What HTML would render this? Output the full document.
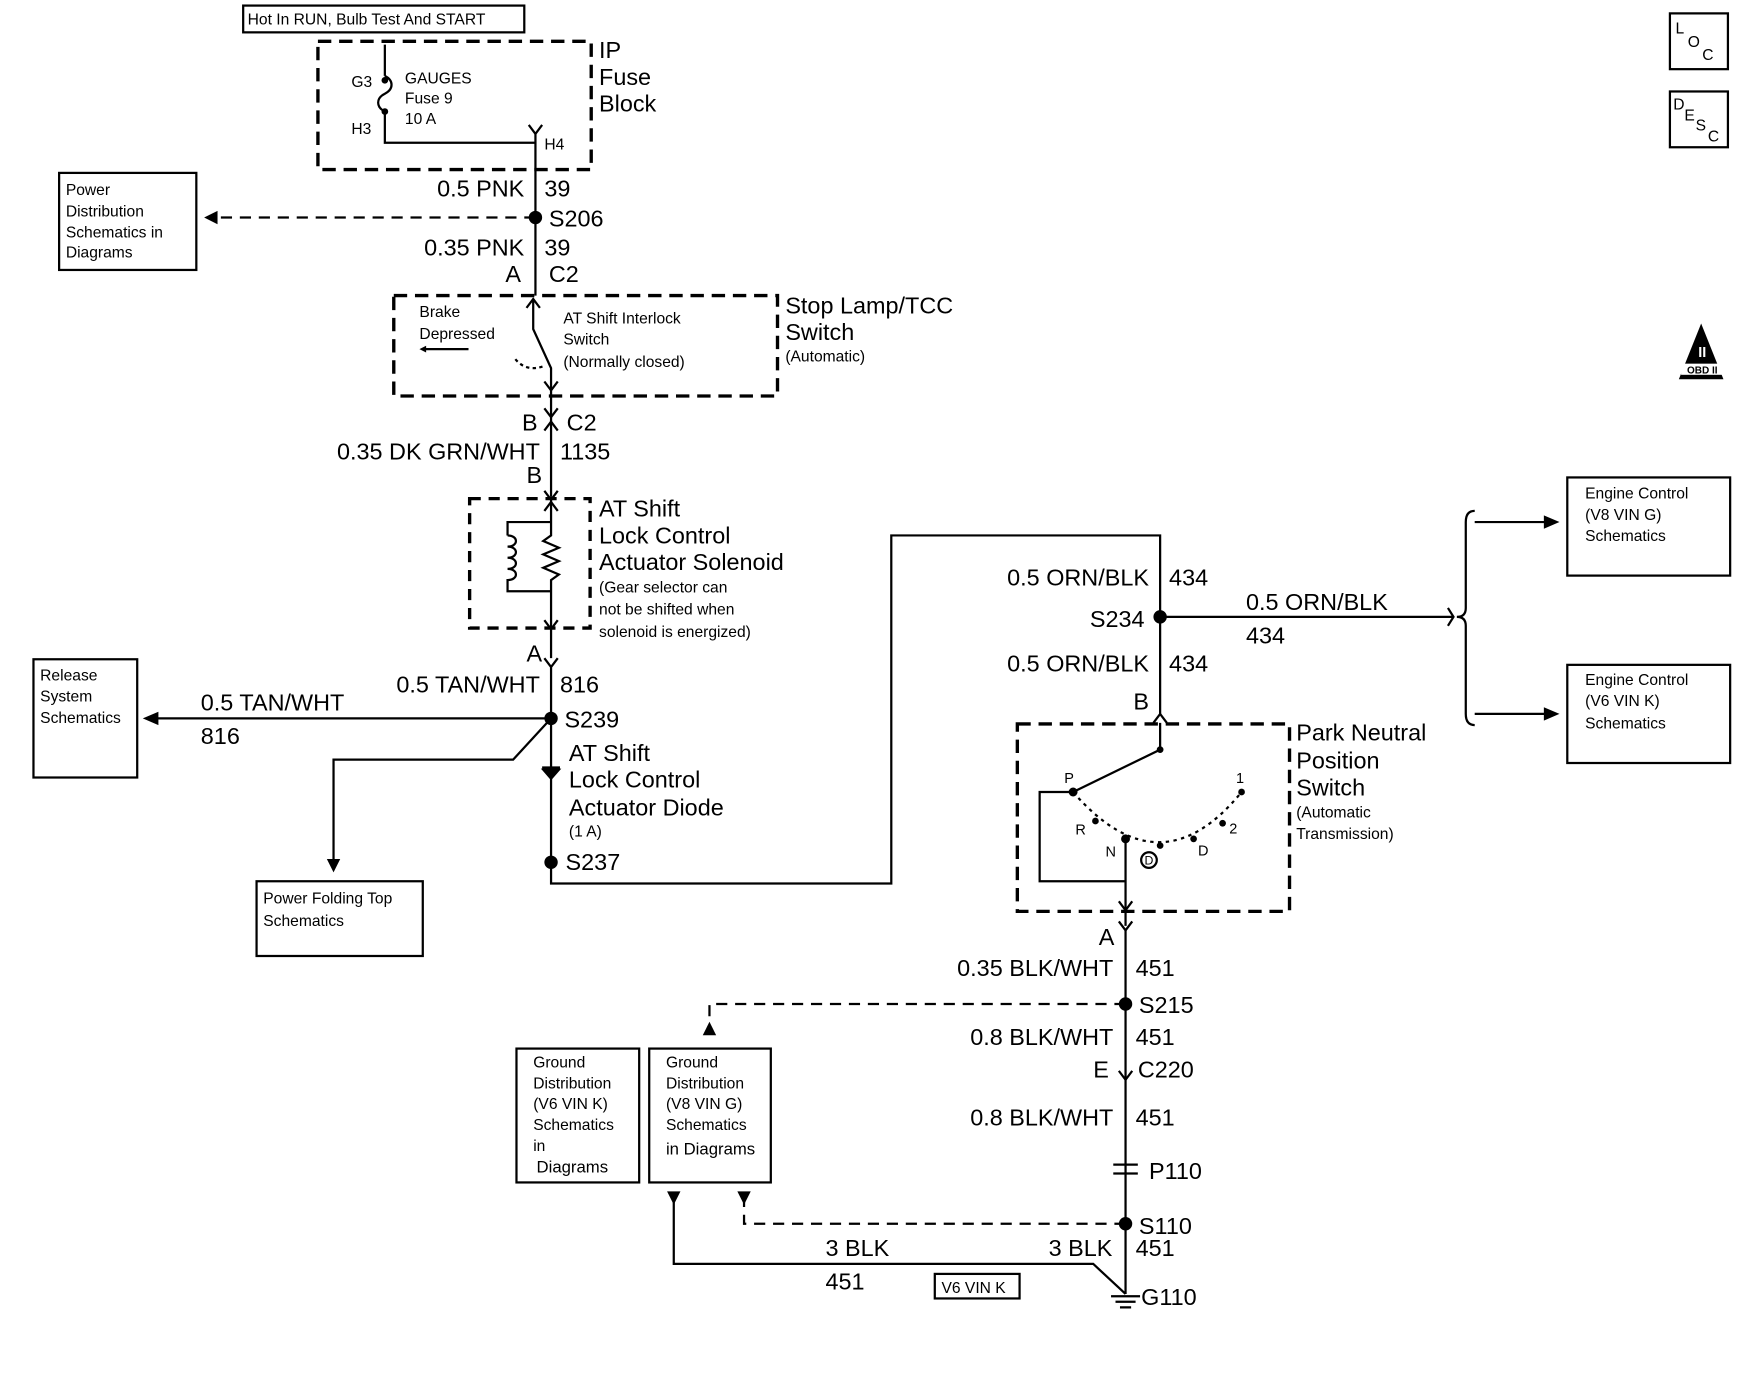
<!DOCTYPE html>
<html><head><meta charset="utf-8"><style>
html,body{margin:0;padding:0;background:#fff}
svg{display:block}
text{font-family:"Liberation Sans",Arial,sans-serif;fill:#000}
.b{font-size:21px}.m{font-size:15px}.s{font-size:14px}
.r{text-anchor:end}
</style></head><body>
<svg width="1748" height="1376" viewBox="0 0 1567 1233" preserveAspectRatio="xMinYMin meet" xmlns="http://www.w3.org/2000/svg">
<g fill="none" stroke="#000" stroke-width="2">
<rect x="218" y="5" width="252" height="24"/>
<rect x="285" y="37" width="245" height="115" stroke-dasharray="12,7" stroke-width="3"/>
<path d="M345 40V68 M345 100V128H480"/>
<path d="M345 68c8 4 8 12 0 16c-8 4-8 12 0 16"/>
<path d="M474 112l6 8l6-8"/>
<path d="M480 120V265"/>
<path d="M480 195H195" stroke-dasharray="10,7"/>
<rect x="53" y="155" width="123" height="87"/>
<rect x="353" y="265" width="344" height="90" stroke-dasharray="12,7" stroke-width="3"/>
<path d="M472 276l6-8l6 8 M478 268V295 L494 330 V378"/>
<path d="M462 322q10 12 26 6" stroke-dasharray="3,3"/>
<path d="M380 313H420"/>
<path d="M488 342l6 8l6-8 M488 366l6 8l6-8"/>
<path d="M494 378V445"/>
<path d="M488 386l6-8l6 8 M488 440l6 8l6-8"/>
<rect x="421" y="447" width="108" height="116" stroke-dasharray="10,7" stroke-width="3"/>
<path d="M494 445V480l-7 5l14 6l-14 6l14 6l-14 6l14 6l-7 5V590"/>
<path d="M494 468H455V480 M455 480c10 0 10 10 0 10c10 0 10 10 0 10c10 0 10 10 0 10c10 0 10 10 0 10V530H494"/>
<path d="M488 458l6-8l6 8 M488 556l6 8l6-8"/>
<path d="M488 590l6 8l6-8 M494 598V792H799V480H1040V640"/>
<path d="M494 644H140"/>
<rect x="30" y="591" width="93" height="106"/>
<path d="M494 644L460 681H299V770"/>
<rect x="230" y="790" width="149" height="67"/>
<path d="M486 688h16 M487 690l7 8l7-8z" fill="#000"/>
<path d="M1040 553H1303 M1298 545l5 8l-5 8"/>
<path d="M1322 458q-8 0-8 10V545q0 8-8 8q8 0 8 8V640q0 10 8 10"/>
<path d="M1322 468H1390 M1322 640H1390"/>
<rect x="1405" y="428" width="146" height="88"/>
<rect x="1405" y="596" width="146" height="88"/>
<path d="M1034 648l6-8l6 8"/>
<rect x="912" y="649" width="244" height="168" stroke-dasharray="12,7" stroke-width="3"/>
<path d="M1040 648V672L962 710H932V790H1009 M1009 752V830"/>
<path d="M962 710Q1040 800 1113 710" stroke-dasharray="3,4"/>
<circle cx="1030" cy="771" r="7"/>
<path d="M1003 808l6 8l6-8 M1003 826l6 8l6-8"/>
<path d="M1009 834V1160"/>
<path d="M1009 900H636V912" stroke-dasharray="10,7"/>
<rect x="463" y="940" width="110" height="120"/>
<rect x="582" y="940" width="109" height="120"/>
<path d="M1003 960l6 8l6-8"/>
<path d="M998 1044h22 M998 1052h22"/>
<path d="M1009 1097H667V1075" stroke-dasharray="10,7"/>
<path d="M604 1078V1133H980L1009 1160"/>
<rect x="838" y="1142" width="76" height="22"/>
<path d="M996 1162h26 M1000 1167h18 M1004 1172h10"/>
<rect x="1497" y="12" width="52" height="50"/>
<rect x="1497" y="82" width="52" height="50"/>
</g>
<g fill="#000">
<path d="M195 189L183 195L195 201z"/>
<path d="M142 638L128 644L142 650z"/>
<path d="M293 770L299 782L305 770z"/>
<path d="M1384 462L1398 468L1384 474z M1384 634L1398 640L1384 646z"/>
<path d="M630 928L636 916L642 928z"/>
<path d="M598 1068L604 1080L610 1068z M661 1068L667 1080L673 1068z"/>
<path d="M382 310L376 313L382 316z"/>
<circle cx="480" cy="195" r="6"/><circle cx="494" cy="644" r="6"/><circle cx="494" cy="773" r="6"/>
<circle cx="1040" cy="553" r="6"/><circle cx="1009" cy="900" r="6"/><circle cx="1009" cy="1097" r="6"/>
<circle cx="345" cy="72" r="3"/><circle cx="345" cy="100" r="3"/>
<circle cx="962" cy="710" r="4"/><circle cx="982" cy="736" r="3"/><circle cx="1009" cy="752" r="4"/><circle cx="1040" cy="758" r="3"/><circle cx="1070" cy="752" r="3"/><circle cx="1096" cy="738" r="3"/><circle cx="1113" cy="710" r="3"/><circle cx="1040" cy="672" r="3"/>
<path d="M1505 340L1525 290L1545 340z"/>
</g>
<rect x="1507" y="326" width="38" height="10" fill="#fff"/>
<text x="1526" y="335" font-size="9" text-anchor="middle" font-weight="bold">OBD II</text>
<text x="1526" y="320" font-size="13" text-anchor="middle" style="fill:#fff" font-weight="bold">II</text>
<text class="s" x="222" y="22">Hot In RUN, Bulb Test And START</text>
<text class="b" x="537" y="52">IP</text><text class="b" x="537" y="76">Fuse</text><text class="b" x="537" y="100">Block</text>
<text class="s" x="315" y="78">G3</text><text class="s" x="315" y="120">H3</text>
<text class="s" x="363" y="75">GAUGES</text><text class="s" x="363" y="93">Fuse 9</text><text class="s" x="363" y="111">10 A</text>
<text class="s" x="488" y="134">H4</text>
<text class="b r" x="470" y="176">0.5 PNK</text><text class="b" x="488" y="176">39</text>
<text class="b" x="492" y="203">S206</text>
<text class="s" x="59" y="175">Power</text><text class="s" x="59" y="194">Distribution</text><text class="s" x="59" y="213">Schematics in</text><text class="s" x="59" y="231">Diagrams</text>
<text class="b r" x="470" y="229">0.35 PNK</text><text class="b" x="488" y="229">39</text>
<text class="b" x="453" y="253">A</text><text class="b" x="492" y="253">C2</text>
<text class="b" x="704" y="281">Stop Lamp/TCC</text><text class="b" x="704" y="305">Switch</text><text class="s" x="704" y="324">(Automatic)</text>
<text class="s" x="376" y="284">Brake</text><text class="s" x="376" y="304">Depressed</text>
<text class="s" x="505" y="290">AT Shift Interlock</text><text class="s" x="505" y="309">Switch</text><text class="s" x="505" y="329">(Normally closed)</text>
<text class="b" x="468" y="386">B</text><text class="b" x="508" y="386">C2</text>
<text class="b r" x="484" y="412">0.35 DK GRN/WHT</text><text class="b" x="502" y="412">1135</text>
<text class="b" x="472" y="433">B</text>
<text class="b" x="537" y="463">AT Shift</text><text class="b" x="537" y="487">Lock Control</text><text class="b" x="537" y="511">Actuator Solenoid</text>
<text class="s" x="537" y="531">(Gear selector can</text><text class="s" x="537" y="551">not be shifted when</text><text class="s" x="537" y="571">solenoid is energized)</text>
<text class="b" x="472" y="593">A</text>
<text class="b r" x="484" y="621">0.5 TAN/WHT</text><text class="b" x="502" y="621">816</text>
<text class="b" x="506" y="652">S239</text>
<text class="b" x="180" y="637">0.5 TAN/WHT</text><text class="b" x="180" y="667">816</text>
<text class="s" x="36" y="610">Release</text><text class="s" x="36" y="629">System</text><text class="s" x="36" y="648">Schematics</text>
<text class="b" x="510" y="682">AT Shift</text><text class="b" x="510" y="706">Lock Control</text><text class="b" x="510" y="731">Actuator Diode</text><text class="s" x="510" y="750">(1 A)</text>
<text class="b" x="507" y="780">S237</text>
<text class="s" x="236" y="810">Power Folding Top</text><text class="s" x="236" y="830">Schematics</text>
<text class="b r" x="1030" y="525">0.5 ORN/BLK</text><text class="b" x="1048" y="525">434</text>
<text class="b r" x="1026" y="562">S234</text>
<text class="b" x="1117" y="547">0.5 ORN/BLK</text><text class="b" x="1117" y="577">434</text>
<text class="b r" x="1030" y="602">0.5 ORN/BLK</text><text class="b" x="1048" y="602">434</text>
<text class="b" x="1016" y="636">B</text>
<text class="s" x="1421" y="447">Engine Control</text><text class="s" x="1421" y="466">(V8 VIN G)</text><text class="s" x="1421" y="485">Schematics</text>
<text class="s" x="1421" y="614">Engine Control</text><text class="s" x="1421" y="633">(V6 VIN K)</text><text class="s" x="1421" y="653">Schematics</text>
<text class="b" x="1162" y="664">Park Neutral</text><text class="b" x="1162" y="689">Position</text><text class="b" x="1162" y="713">Switch</text>
<text class="s" x="1162" y="733">(Automatic</text><text class="s" x="1162" y="752">Transmission)</text>
<text font-size="13" x="954" y="702">P</text><text font-size="13" x="964" y="748">R</text><text font-size="13" x="991" y="768">N</text><text font-size="11" x="1026" y="775">D</text><text font-size="13" x="1074" y="767">D</text><text font-size="13" x="1102" y="747">2</text><text font-size="13" x="1108" y="702">1</text>
<text class="b" x="985" y="847">A</text>
<text class="b r" x="998" y="875">0.35 BLK/WHT</text><text class="b" x="1018" y="875">451</text>
<text class="b" x="1021" y="908">S215</text>
<text class="b r" x="998" y="937">0.8 BLK/WHT</text><text class="b" x="1018" y="937">451</text>
<text class="b" x="980" y="966">E</text><text class="b" x="1020" y="966">C220</text>
<text class="b r" x="998" y="1009">0.8 BLK/WHT</text><text class="b" x="1018" y="1009">451</text>
<text class="b" x="1030" y="1057">P110</text>
<text class="b" x="1021" y="1106">S110</text>
<text class="b" x="740" y="1126">3 BLK</text><text class="b" x="740" y="1156">451</text>
<text class="b" x="940" y="1126">3 BLK</text><text class="b" x="1018" y="1126">451</text>
<text class="s" x="844" y="1159">V6 VIN K</text>
<text class="b" x="1023" y="1170">G110</text>
<text class="s" x="478" y="957">Ground</text><text class="s" x="478" y="976">Distribution</text><text class="s" x="478" y="994">(V6 VIN K)</text><text class="s" x="478" y="1013">Schematics</text><text class="s" x="478" y="1032">in</text><text class="m" x="481" y="1051">Diagrams</text>
<text class="s" x="597" y="957">Ground</text><text class="s" x="597" y="976">Distribution</text><text class="s" x="597" y="994">(V8 VIN G)</text><text class="s" x="597" y="1013">Schematics</text><text class="m" x="597" y="1035">in Diagrams</text>
<text font-size="14" x="1502" y="30">L</text><text font-size="14" x="1513" y="42">O</text><text font-size="14" x="1526" y="54">C</text>
<text font-size="14" x="1500" y="98">D</text><text font-size="14" x="1510" y="108">E</text><text font-size="14" x="1520" y="117">S</text><text font-size="14" x="1531" y="127">C</text>
</svg>
</body></html>
